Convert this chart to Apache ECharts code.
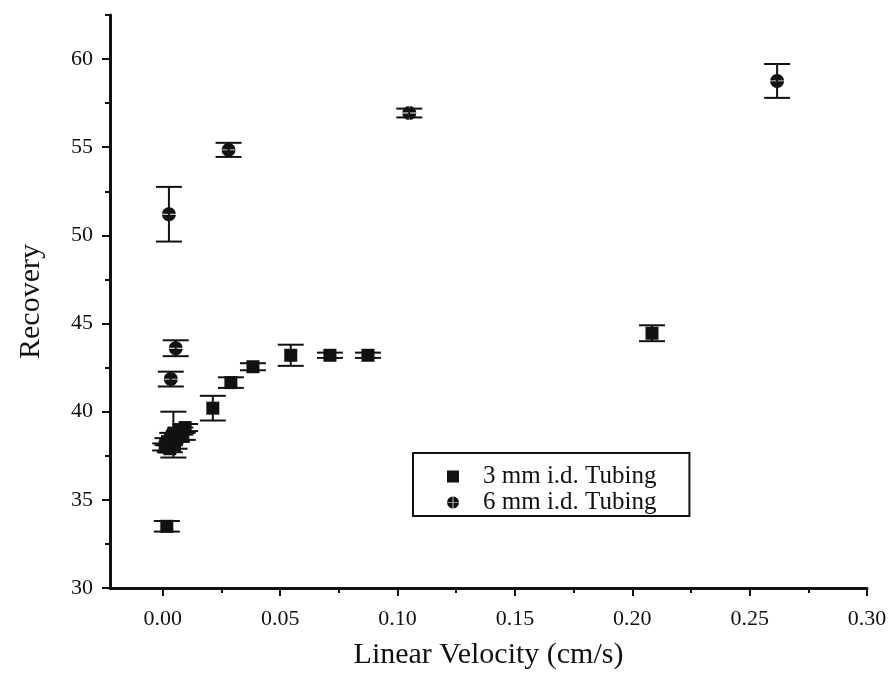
<!DOCTYPE html>
<html>
<head>
<meta charset="utf-8">
<script src="https://cdn.jsdelivr.net/npm/echarts@6/dist/echarts.min.js"></script>
<style>
  html, body { margin: 0; padding: 0; background: #fff; }
  #chart { width: 892px; height: 683px; }
</style>
</head>
<body>
<div id="chart"></div>
<script>
// Recovery vs. linear velocity for two tubing diameters (mean ± SD)
const velocity3mm = [0.0017, 0.0045, 0.0020, 0.0030, 0.0040, 0.0050, 0.0060, 0.0075, 0.0085, 0.0095, 0.0010,
                     0.0213, 0.0290, 0.0384, 0.0545, 0.0712, 0.0874, 0.2084];
const recovery3mm = [33.5, 38.7, 38.3, 37.9, 38.6, 38.1, 38.5, 38.9, 38.6, 39.1, 38.0,
                     40.2, 41.65, 42.55, 43.2, 43.2, 43.2, 44.45];
const sd3mm       = [0.3, 1.3, 0.2, 0.2, 0.2, 0.2, 0.2, 0.2, 0.2, 0.2, 0.2,
                     0.7, 0.3, 0.2, 0.6, 0.15, 0.15, 0.45];

const velocity6mm = [0.0026, 0.0055, 0.0034, 0.0280, 0.1050, 0.2617];
const recovery6mm = [51.2, 43.6, 41.85, 54.85, 56.94, 58.76];
const sd6mm       = [1.55, 0.45, 0.42, 0.4, 0.25, 0.96];

const xMajorTicks = [0, 0.05, 0.10, 0.15, 0.20, 0.25, 0.30];
const xMinorTicks = [0.025, 0.075, 0.125, 0.175, 0.225, 0.275];
const yMajorTicks = [30, 35, 40, 45, 50, 55, 60];
const yMinorTicks = [32.5, 37.5, 42.5, 47.5, 52.5, 57.5, 62.5];

const seriesNames = ['3 mm i.d. Tubing', '6 mm i.d. Tubing'];

const INK = '#111';
const SERIF = '"Liberation Serif", "DejaVu Serif", serif';

// filled circle split into four quadrants -> circle with a thin cross
const crossedCircle = 'path://M10.6 9.4L10.6 0.018A10 10 0 0 1 19.982 9.4Z' +
  'M10.6 10.6L19.982 10.6A10 10 0 0 1 10.6 19.982Z' +
  'M9.4 10.6L9.4 19.982A10 10 0 0 1 0.018 10.6Z' +
  'M9.4 9.4L0.018 9.4A10 10 0 0 1 9.4 0.018Z';

const zip2 = (xs, ys) => xs.map((x, i) => [x, ys[i]]);
const zip3 = (xs, ys, es) => xs.map((x, i) => [x, ys[i], es[i]]);

function renderErrorBar(params, api) {
  const x = api.value(0), y = api.value(1), e = api.value(2);
  const top = api.coord([x, y + e]);
  const bot = api.coord([x, y - e]);
  const hw = 13;
  const st = { stroke: INK, lineWidth: 2 };
  return {
    type: 'group',
    children: [
      { type: 'line', shape: { x1: top[0], y1: top[1], x2: bot[0], y2: bot[1] }, style: st },
      { type: 'line', shape: { x1: top[0] - hw, y1: top[1], x2: top[0] + hw, y2: top[1] }, style: st },
      { type: 'line', shape: { x1: bot[0] - hw, y1: bot[1], x2: bot[0] + hw, y2: bot[1] }, style: st }
    ]
  };
}

const xMin = -0.0225, xMax = 0.30, yMin = 30, yMax = 62.5;
const tickLabelStyle = { color: INK, fontFamily: SERIF, fontSize: 22 };
const nameStyle = { color: INK, fontFamily: SERIF, fontSize: 30 };

const chart = echarts.init(document.getElementById('chart'), null, { renderer: 'canvas' });
chart.setOption({
  backgroundColor: '#fff',
  animation: false,
  grid: { left: 110, right: 25, top: 15, bottom: 95 },
  legend: {
    data: [
      { name: seriesNames[0], icon: 'rect' },
      { name: seriesNames[1], icon: crossedCircle }
    ],
    orient: 'vertical',
    left: 413,
    top: 453,
    padding: [11, 33, 1, 34],
    itemGap: 1,
    itemWidth: 12,
    itemHeight: 12,
    borderColor: INK,
    borderWidth: 2,
    borderRadius: 0,
    selectedMode: false,
    textStyle: { color: INK, fontFamily: SERIF, fontSize: 25, lineHeight: 25, padding: [0, 0, 0, 19] }
  },
  xAxis: [
    {
      type: 'value', min: xMin, max: xMax,
      name: 'Linear Velocity (cm/s)', nameLocation: 'middle', nameGap: 52,
      nameTextStyle: nameStyle,
      axisLine: { onZero: false, lineStyle: { color: INK, width: 3 } },
      axisTick: { customValues: xMajorTicks, length: 8, lineStyle: { color: INK, width: 2 } },
      axisLabel: { customValues: xMajorTicks, margin: 20, formatter: v => v.toFixed(2), ...tickLabelStyle },
      splitLine: { show: false }
    },
    {
      type: 'value', min: xMin, max: xMax, position: 'bottom',
      axisLine: { show: false, onZero: false },
      axisTick: { customValues: xMinorTicks, length: 5, lineStyle: { color: INK, width: 2 } },
      axisLabel: { show: false },
      splitLine: { show: false }
    }
  ],
  yAxis: [
    {
      type: 'value', min: yMin, max: yMax,
      name: 'Recovery', nameLocation: 'middle', nameGap: 64,
      nameTextStyle: nameStyle,
      axisLine: { onZero: false, lineStyle: { color: INK, width: 3 } },
      axisTick: { customValues: yMajorTicks, length: 8, lineStyle: { color: INK, width: 2 } },
      axisLabel: { customValues: yMajorTicks, margin: 17, ...tickLabelStyle },
      splitLine: { show: false }
    },
    {
      type: 'value', min: yMin, max: yMax, position: 'left',
      axisLine: { show: false, onZero: false },
      axisTick: { customValues: yMinorTicks, length: 5, lineStyle: { color: INK, width: 2 } },
      axisLabel: { show: false },
      splitLine: { show: false }
    }
  ],
  series: [
    {
      name: '3 mm SD', type: 'custom', renderItem: renderErrorBar,
      data: zip3(velocity3mm, recovery3mm, sd3mm), encode: { x: 0, y: 1 }, z: 2, silent: true
    },
    {
      name: '6 mm SD', type: 'custom', renderItem: renderErrorBar,
      data: zip3(velocity6mm, recovery6mm, sd6mm), encode: { x: 0, y: 1 }, z: 2, silent: true
    },
    {
      name: seriesNames[0], type: 'scatter', symbol: 'rect', symbolSize: 13,
      itemStyle: { color: INK, opacity: 1 },
      data: zip2(velocity3mm, recovery3mm), z: 3
    },
    {
      name: seriesNames[1], type: 'scatter', symbol: crossedCircle, symbolSize: 14, symbolKeepAspect: true,
      itemStyle: { color: INK, opacity: 1 },
      data: zip2(velocity6mm, recovery6mm), z: 3
    }
  ]
});
</script>
</body>
</html>
